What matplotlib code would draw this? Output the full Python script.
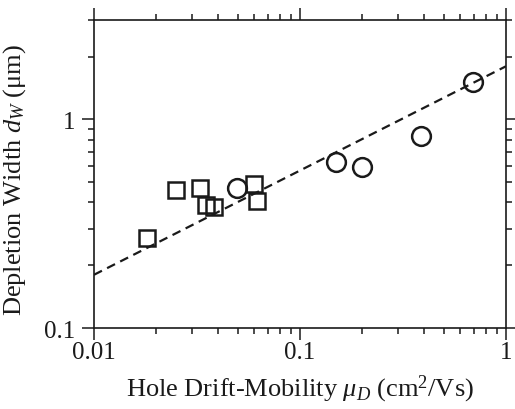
#!/usr/bin/env python3

import matplotlib
matplotlib.use('Agg')

import matplotlib.pyplot as plt
from matplotlib.ticker import FixedLocator, NullFormatter, FixedFormatter


# squares
sq_mobility = [0.018, 0.0249, 0.0327, 0.0348, 0.0383, 0.0598, 0.0617]
sq_width = [0.270, 0.459, 0.469, 0.389, 0.382, 0.493, 0.407]

# circles
ci_mobility = [0.0496, 0.150, 0.199, 0.387, 0.690]
ci_width = [0.469, 0.628, 0.592, 0.832, 1.51]

# dashed fit line
fit_mobility = [0.01, 1.0]
fit_width = [0.18, 1.8]

x_ticks = [0.01, 0.1, 1]
x_labels = ['0.01', '0.1', '1']
y_ticks = [0.1, 1]
y_labels = ['0.1', '1']

INK = '#1a1a1a'


def main():
    plt.rcParams['font.family'] = ['Liberation Serif', 'DejaVu Serif']
    plt.rcParams['mathtext.fontset'] = 'custom'
    plt.rcParams['mathtext.rm'] = 'Liberation Serif'
    plt.rcParams['mathtext.it'] = 'Liberation Serif:italic'

    fig = plt.figure(figsize=(5.15, 4.10), dpi=100)
    ax = fig.add_axes([94 / 515, 1 - 329 / 410, 412 / 515, 308 / 410])

    ax.plot(fit_mobility, fit_width, '--', color=INK, linewidth=1.6,
            dashes=(4, 2.6), zorder=2)
    ax.plot(sq_mobility, sq_width, 's', markersize=12, markerfacecolor='none',
            markeredgecolor=INK, markeredgewidth=1.8, zorder=3)
    ax.plot(ci_mobility, ci_width, 'o', markersize=13.5, markerfacecolor='none',
            markeredgecolor=INK, markeredgewidth=1.8, zorder=3)

    ax.set_xscale('log')
    ax.set_yscale('log')
    ax.set_xlim(0.01, 1)
    ax.set_ylim(0.1, 3)

    ax.xaxis.set_major_locator(FixedLocator(x_ticks))
    ax.xaxis.set_major_formatter(FixedFormatter(x_labels))
    ax.yaxis.set_major_locator(FixedLocator(y_ticks))
    ax.yaxis.set_major_formatter(FixedFormatter(y_labels))
    ax.xaxis.set_minor_formatter(NullFormatter())
    ax.yaxis.set_minor_formatter(NullFormatter())

    for side in ax.spines.values():
        side.set_linewidth(1.2)
        side.set_color(INK)

    ax.tick_params(which='both', direction='out', top=True, right=True,
                   color=INK, width=1.1, labelsize=18, labelcolor=INK)
    ax.tick_params(which='major', length=8.6)
    ax.tick_params(which='minor', length=4.3)
    ax.tick_params(axis='x', pad=1)
    ax.tick_params(axis='y', pad=5)

    ax.set_xlabel(r'Hole Drift-Mobility $\mu_D$ (cm$^2$/Vs)', fontsize=19,
                  color=INK, labelpad=7)
    ax.set_ylabel(r'Depletion Width $d_W$ ($\mathrm{\mu}$m)', fontsize=19,
                  color=INK)
    ax.yaxis.set_label_coords(-0.16, 0.484)

    fig.savefig('out.png', dpi=100)
    plt.close(fig)


if __name__ == "__main__":
    main()
